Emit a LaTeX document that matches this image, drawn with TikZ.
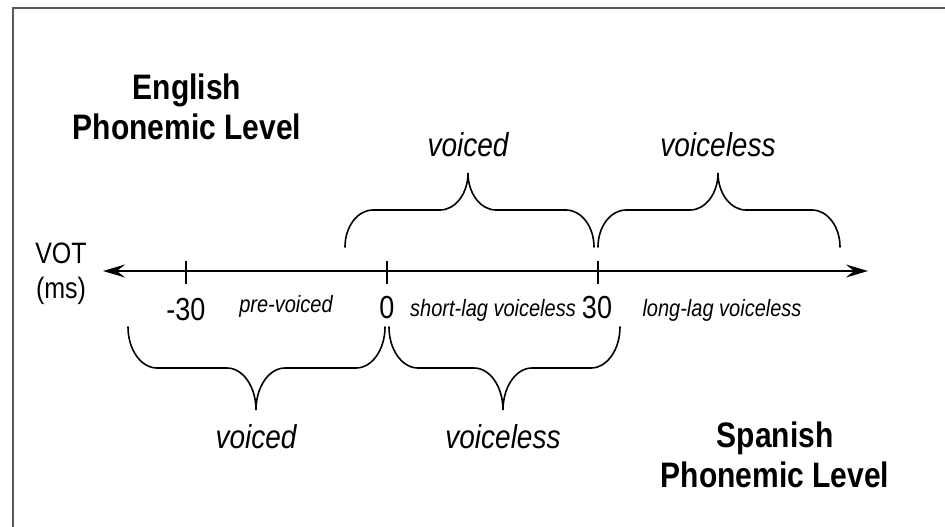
\documentclass[tikz,border=0pt]{standalone}
\usepackage{fontspec}
\usepackage{graphicx}
\setmainfont{Liberation Sans}
\usetikzlibrary{arrows.meta}
\newcommand\tall[1]{\scalebox{1}[1.18]{#1}}
\newcommand\curlybrace[7]{% x1 x2 xm yb yf yt r
  \draw[bracestyle] (#1,#4) .. controls (#1,{#4+0.552*(#5-#4)}) and ({#1+0.448*#7},#5) .. ({#1+#7},#5)
   -- ({#3-#7},#5) .. controls ({#3-0.448*#7},#5) and (#3,{#6+0.552*(#5-#6)}) .. (#3,#6)
   .. controls (#3,{#6+0.552*(#5-#6)}) and ({#3+0.448*#7},#5) .. ({#3+#7},#5)
   -- ({#2-#7},#5) .. controls ({#2-0.448*#7},#5) and (#2,{#4+0.552*(#5-#4)}) .. (#2,#4);}
\begin{document}
\begin{tikzpicture}[x=1pt,y=-1pt,
  frame/.style={draw=black!65,line width=1.8pt},
  bracestyle/.style={line width=1.6pt,line cap=round},
  axisline/.style={line width=2pt,{Stealth[length=22pt,width=13pt,inset=8pt]}-{Stealth[length=22pt,width=13pt,inset=8pt]}},
  tickline/.style={line width=2pt},
  title/.style={font=\fontsize{30}{40}\selectfont\bfseries,align=center,inner sep=0pt},
  cat/.style={font=\fontsize{28}{32}\selectfont\itshape,inner sep=0pt},
  small/.style={font=\fontsize{20}{24}\selectfont\itshape,inner sep=0pt},
  num/.style={font=\fontsize{27}{30}\selectfont,inner sep=0pt},
  vot/.style={font=\fontsize{25}{35}\selectfont,align=center,inner sep=0pt}]
\useasboundingbox (0,0) rectangle (945,527);
% frame (cropped)
\coordinate (fbl) at (13,530);
\coordinate (ftl) at (13,8);
\coordinate (ftr) at (948,8);
\draw[frame] (fbl) -- (ftl) -- (ftr);
% titles
\node[title] (eng) at (187,107) {\tall{English}\\\tall{Phonemic Level}};
\node[title] (spa) at (775,455) {\tall{Spanish}\\\tall{Phonemic Level}};
% axis
\coordinate (axL) at (103,271);
\coordinate (axR) at (868,271);
\draw[axisline] (axL) -- (axR);
\node[vot] (vot) at (61,274) {\tall{VOT}\\\tall{(ms)}};
% ticks
\foreach \n/\x in {m30/186,z/387,p30/598}{
  \coordinate (t\n a) at (\x,261);
  \coordinate (t\n b) at (\x,284);
  \draw[tickline] (t\n a) -- (t\n b);
}
\node[num] (lm30) at (186,310) {\tall{-30}};
\node[num] (lz) at (387,308) {\tall{0}};
\node[num] (lp30) at (597,308) {\tall{30}};
\node[small] (pre) at (286,306) {\tall{pre-voiced}};
\node[small] (slv) at (493,310) {\tall{short-lag voiceless}};
\node[small] (llv) at (722,310) {\tall{long-lag voiceless}};
% upper braces (English)
\curlybrace{345}{594}{468}{247}{210}{173}{28}
\curlybrace{598}{840}{718}{247}{210}{173}{28}
\node[cat] (ev) at (468,145) {\tall{voiced}};
\node[cat] (evl) at (718,145) {\tall{voiceless}};
% lower braces (Spanish)
\curlybrace{128}{385}{256}{327}{368}{410}{29}
\curlybrace{389}{620}{503}{327}{368}{410}{29}
\node[cat] (sv) at (256,437) {\tall{voiced}};
\node[cat] (svl) at (503,437) {\tall{voiceless}};
\end{tikzpicture}
\end{document}
